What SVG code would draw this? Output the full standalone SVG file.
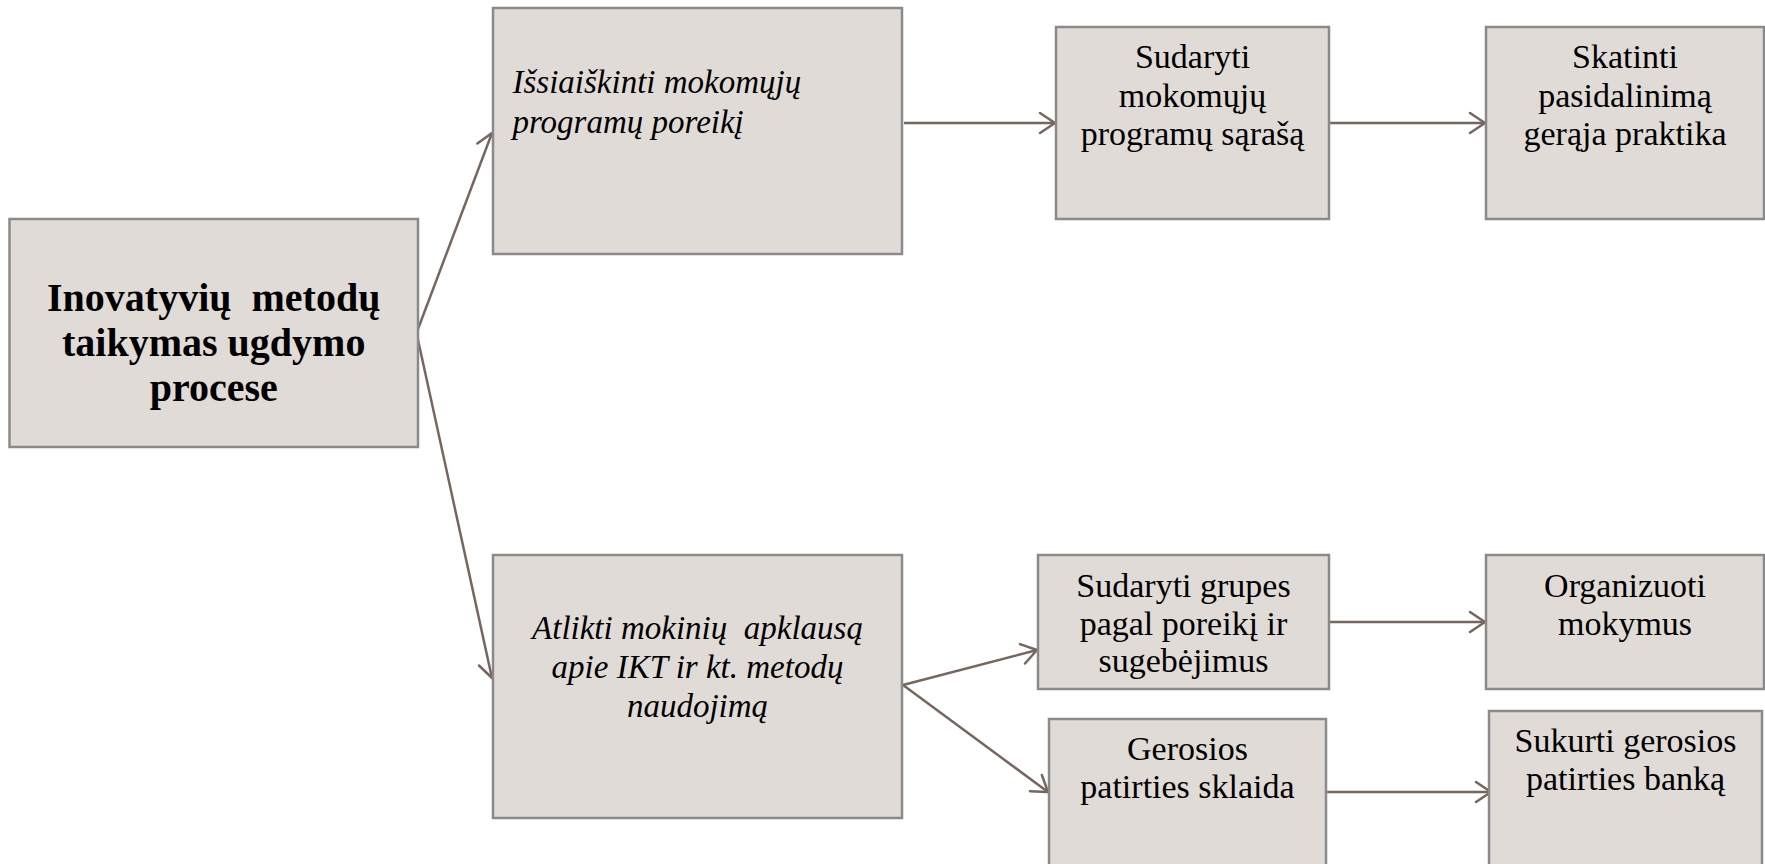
<svg xmlns="http://www.w3.org/2000/svg" width="1765" height="864" viewBox="0 0 1765 864">
<style>
.box{fill:#E0DBD7;stroke:#8A8A8A;stroke-width:2.5}
.t{font-family:"Liberation Serif","Times New Roman",serif;fill:#000;font-size:34px;text-anchor:middle}
.it{font-family:"Liberation Serif","Times New Roman",serif;fill:#000;font-size:33px;font-style:italic}
.b{font-family:"Liberation Serif","Times New Roman",serif;fill:#000;font-size:40px;font-weight:bold;text-anchor:middle}
.c{stroke:#76665E;stroke-width:2.5;fill:none;marker-end:url(#ah)}
</style>
<defs>
<marker id="ah" markerUnits="userSpaceOnUse" viewBox="-18 -13 21 26" markerWidth="21" markerHeight="26" refX="0" refY="0" orient="auto">
<path d="M-15,-10 L0,0 L-15,10" fill="none" stroke="#76665E" stroke-width="2.5" stroke-linecap="round" stroke-linejoin="round"/>
</marker>
</defs>
<rect width="1765" height="864" fill="#FFFFFF"/>
<g id="connectors">
<line class="c" x1="416.5" y1="333" x2="492" y2="133"/>
<line class="c" x1="416.5" y1="333" x2="492" y2="678"/>
<line class="c" x1="904" y1="123" x2="1055" y2="123"/>
<line class="c" x1="1329" y1="123" x2="1485" y2="123"/>
<line class="c" x1="903" y1="685" x2="1037" y2="650"/>
<line class="c" x1="903" y1="685" x2="1048" y2="792"/>
<line class="c" x1="1329" y1="622" x2="1485" y2="622"/>
<line class="c" x1="1326" y1="792" x2="1491" y2="792"/>
</g>
<g id="node-main">
<rect class="box" x="9.5" y="219" width="408.5" height="228"/>
<text class="b" x="213.75" y="311" xml:space="preserve">Inovatyvių  metodų</text>
<text class="b" x="213.75" y="356">taikymas ugdymo</text>
<text class="b" x="213.75" y="401">procese</text>
</g>
<g id="node-issiaiskinti">
<rect class="box" x="493" y="8" width="409" height="246"/>
<text class="it" x="512.5" y="93">Išsiaiškinti mokomųjų</text>
<text class="it" x="512.5" y="132.5">programų poreikį</text>
</g>
<g id="node-sudaryti-sarasa">
<rect class="box" x="1056" y="27" width="273" height="192"/>
<text class="t" x="1192.5" y="68">Sudaryti</text>
<text class="t" x="1192.5" y="106.5">mokomųjų</text>
<text class="t" x="1192.5" y="145">programų sąrašą</text>
</g>
<g id="node-skatinti">
<rect class="box" x="1486" y="27" width="278" height="192"/>
<text class="t" x="1625" y="68">Skatinti</text>
<text class="t" x="1625" y="106.5">pasidalinimą</text>
<text class="t" x="1625" y="145">gerąja praktika</text>
</g>
<g id="node-atlikti">
<rect class="box" x="493" y="555" width="409" height="263"/>
<text class="it" x="697.5" y="639" text-anchor="middle" xml:space="preserve">Atlikti mokinių  apklausą</text>
<text class="it" x="697.5" y="678" text-anchor="middle">apie IKT ir kt. metodų</text>
<text class="it" x="697.5" y="717" text-anchor="middle">naudojimą</text>
</g>
<g id="node-sudaryti-grupes">
<rect class="box" x="1038" y="555" width="291" height="134"/>
<text class="t" x="1183.5" y="597">Sudaryti grupes</text>
<text class="t" x="1183.5" y="634.5">pagal poreikį ir</text>
<text class="t" x="1183.5" y="672">sugebėjimus</text>
</g>
<g id="node-organizuoti">
<rect class="box" x="1486" y="555" width="278" height="134"/>
<text class="t" x="1625" y="597">Organizuoti</text>
<text class="t" x="1625" y="634.5">mokymus</text>
</g>
<g id="node-gerosios">
<rect class="box" x="1049" y="719" width="277" height="160"/>
<text class="t" x="1187.5" y="760">Gerosios</text>
<text class="t" x="1187.5" y="798">patirties sklaida</text>
</g>
<g id="node-sukurti">
<rect class="box" x="1489" y="711" width="273" height="168"/>
<text class="t" x="1625.5" y="752">Sukurti gerosios</text>
<text class="t" x="1625.5" y="790">patirties banką</text>
</g>
</svg>
